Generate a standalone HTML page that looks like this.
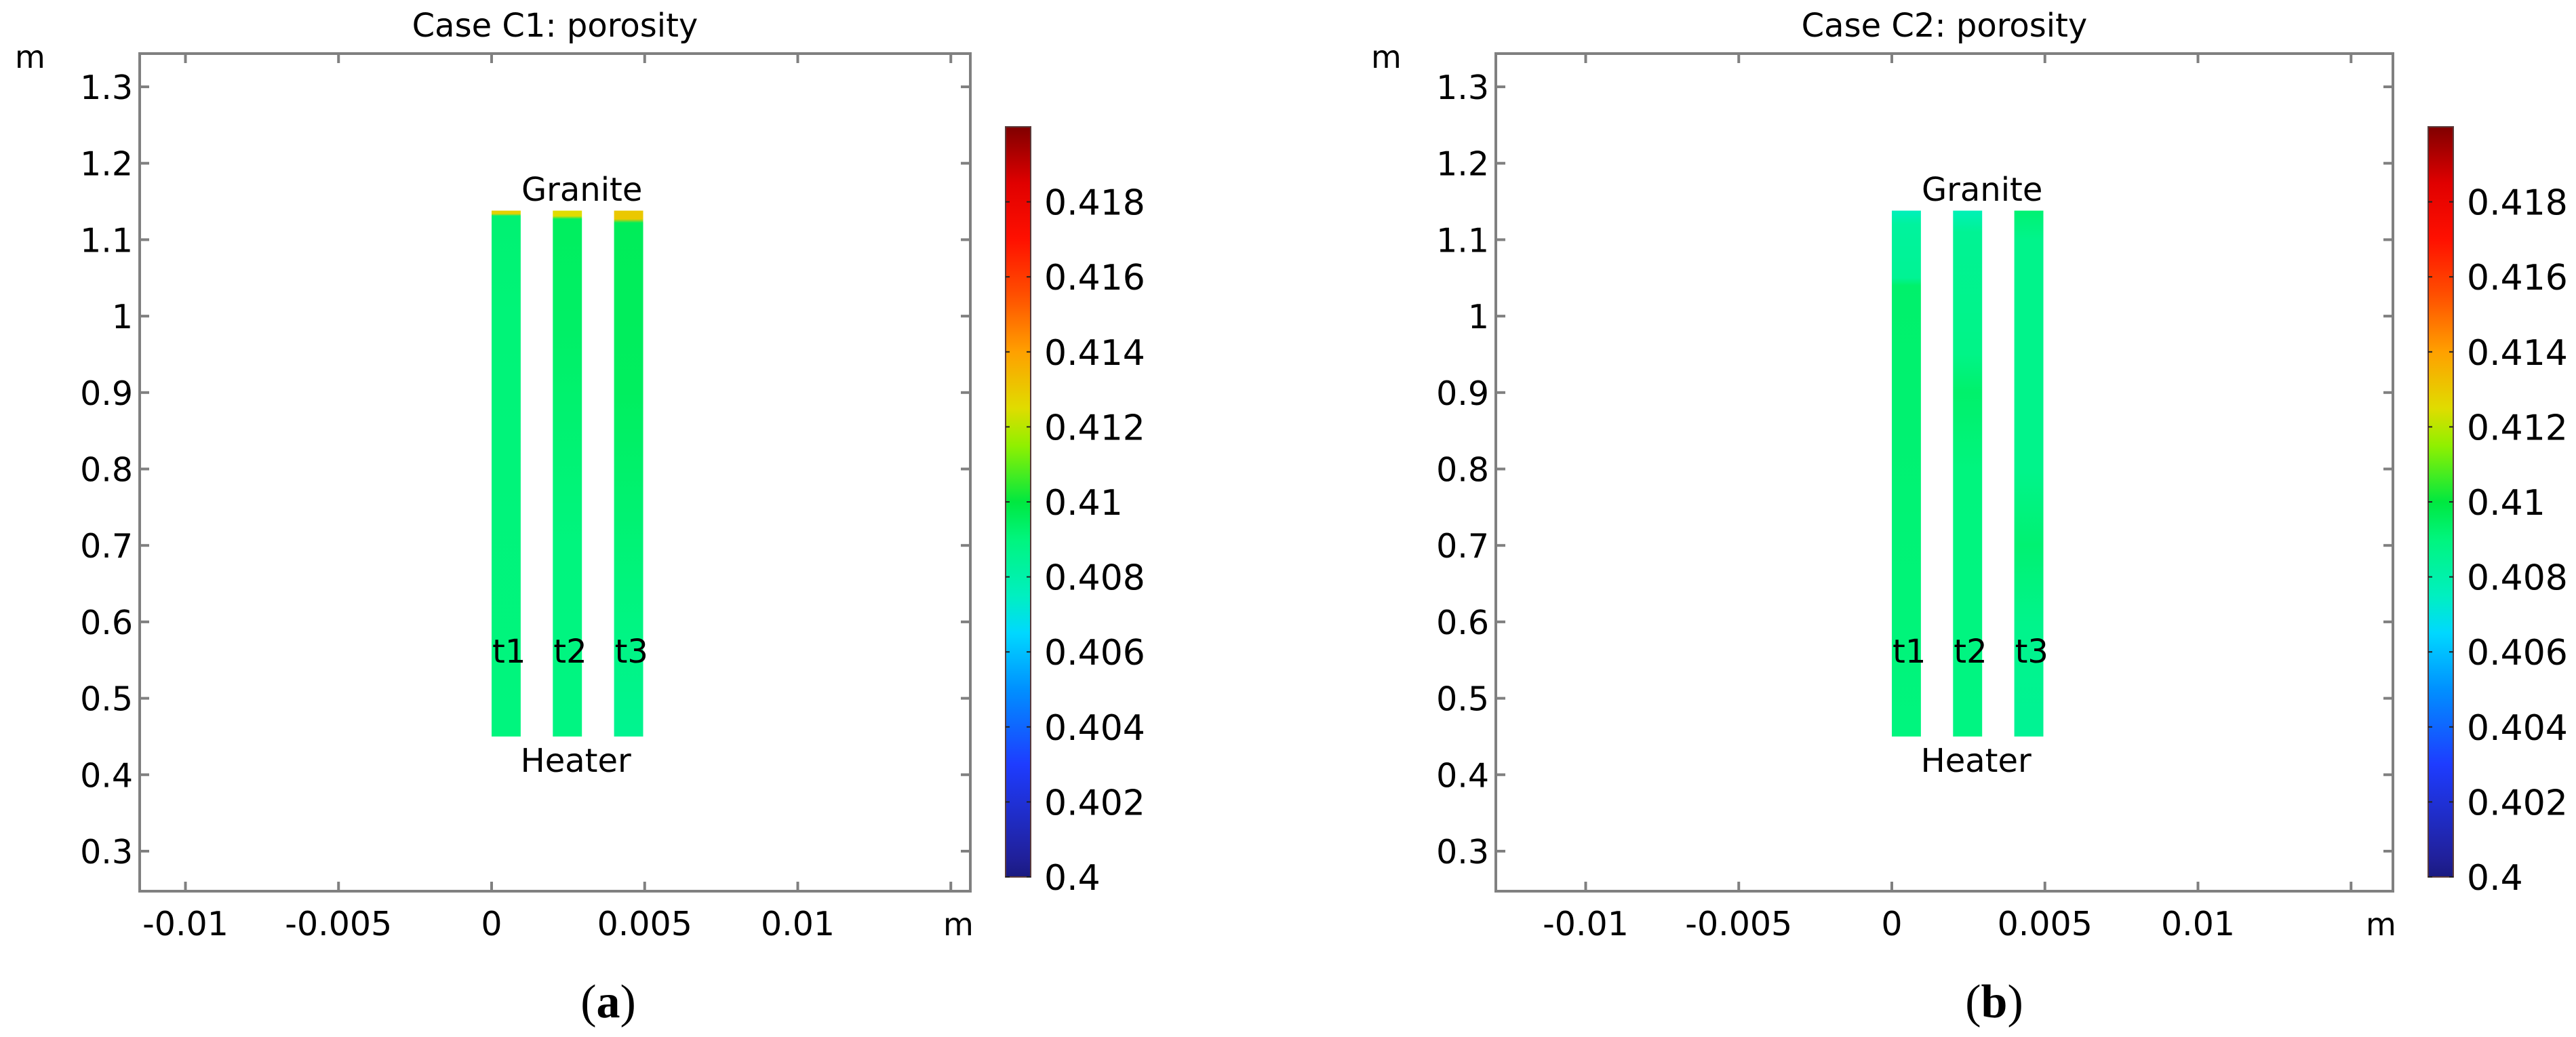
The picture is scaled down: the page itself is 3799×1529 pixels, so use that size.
<!DOCTYPE html>
<html><head><meta charset="utf-8"><style>
html,body{margin:0;padding:0;background:#fff;}
svg{display:block;}
text{font-family:"DejaVu Sans","Liberation Sans",sans-serif;fill:#000;}
</style></head><body>
<svg id="fig" width="3799" height="1529" viewBox="0 0 3799 1529" xmlns="http://www.w3.org/2000/svg"></svg>
<script>
// ---- data ----
const yTicks = [1.3, 1.2, 1.1, 1.0, 0.9, 0.8, 0.7, 0.6, 0.5, 0.4, 0.3];
const yTickLabels = ["1.3","1.2","1.1","1","0.9","0.8","0.7","0.6","0.5","0.4","0.3"];
const xTicks = [-0.01, -0.005, 0, 0.005, 0.01, 0.015];
const xTickLabels = ["-0.01","-0.005","0","0.005","0.01",""];
const cbTicks = [0.418, 0.416, 0.414, 0.412, 0.41, 0.408, 0.406, 0.404, 0.402, 0.4];
const cbTickLabels = ["0.418","0.416","0.414","0.412","0.41","0.408","0.406","0.404","0.402","0.4"];
const cbMin = 0.4, cbMax = 0.42;
const barNames = ["t1","t2","t3"];
const barX0 = [0, 0.002, 0.004];
const barX1 = [0.00095, 0.00295, 0.00495];
const barYBottom = 0.45, barYTop = 1.138;
// per-bar vertical profile: heights (m) and porosity values
const c1T1Y = [1.138, 1.134, 1.131, 1.0, 0.45];
const c1T1V = [0.4128, 0.4128, 0.4092, 0.4091, 0.4090];
const c1T2Y = [1.138, 1.131, 1.127, 1.0, 0.7, 0.45];
const c1T2V = [0.4125, 0.4125, 0.4095, 0.4094, 0.4090, 0.4089];
const c1T3Y = [1.138, 1.127, 1.122, 0.9, 0.6, 0.45];
const c1T3V = [0.4130, 0.4130, 0.4096, 0.4095, 0.4089, 0.4086];
const c2T1Y = [1.138, 1.12, 1.05, 1.04, 0.45];
const c2T1V = [0.4076, 0.4083, 0.4085, 0.4093, 0.4090];
const c2T2Y = [1.138, 1.11, 0.95, 0.9, 0.8, 0.45];
const c2T2V = [0.4077, 0.4085, 0.4088, 0.4093, 0.4090, 0.4089];
const c2T3Y = [1.138, 1.1, 0.8, 0.7, 0.6, 0.45];
const c2T3V = [0.4092, 0.4087, 0.4087, 0.4092, 0.4087, 0.4085];
// colormap stops (value, colour)
const cmapV = [0.400, 0.4005, 0.403, 0.405, 0.4065, 0.4075, 0.409, 0.410, 0.4115, 0.4125, 0.414, 0.4155, 0.417, 0.4185, 0.420];
const cmapC = ["#1a1a80","#20209a","#1e3cff","#0090ff","#00d8ff","#00f0c0","#00f57e","#00e840","#90f000","#e0dc00","#ffa000","#ff5000","#ff1000","#e00000","#800000"];

const NS = "http://www.w3.org/2000/svg";
const svg = document.getElementById("fig");
const defs = document.createElementNS(NS, "defs");
svg.appendChild(defs);

function mk(tag, attrs, parent) {
  const e = document.createElementNS(NS, tag);
  for (const k in attrs) e.setAttribute(k, attrs[k]);
  (parent || svg).appendChild(e);
  return e;
}
function hex2rgb(h){return [parseInt(h.substr(1,2),16),parseInt(h.substr(3,2),16),parseInt(h.substr(5,2),16)];}
function cmap(v){
  if (v <= cmapV[0]) return cmapC[0];
  for (let i = 1; i < cmapV.length; i++) {
    if (v <= cmapV[i]) {
      const t = (v - cmapV[i-1]) / (cmapV[i] - cmapV[i-1]);
      const a = hex2rgb(cmapC[i-1]), b = hex2rgb(cmapC[i]);
      return "rgb(" + a.map((c, j) => Math.round(c + (b[j]-c)*t)).join(",") + ")";
    }
  }
  return cmapC[cmapC.length-1];
}

const yScale = v => 128 + (1.3 - v) * 1127;
const boxTop = 79, boxBottom = 1314;

function panel(p) {
  const g = mk("g", {});
  
  
  const xs = v => p.x0 + v * 45150;
  const title = mk("text", {x: (p.left + p.right)/2, y: 54, "font-size": 48, "text-anchor": "middle"}, g);
  title.textContent = p.title;
  
  
  const yu = mk("text", {x: p.left - 184, y: 100, "font-size": 46}, g);
  yu.textContent = "m";
  
  
  const bars = mk("g", {}, g);
  
  
  for (let i = 0; i < barNames.length; i++) {
    const gid = p.id + "-grad-" + i;
    const lg = mk("linearGradient", {id: gid, x1: 0, y1: 0, x2: 0, y2: 1}, defs);
    const ys = p.barY[i], vs = p.barV[i];
    for (let k = 0; k < ys.length; k++) {
      const off = (barYTop - ys[k]) / (barYTop - barYBottom);
      mk("stop", {offset: off, "stop-color": cmap(vs[k])}, lg);
    }
    const r = mk("rect", {x: xs(barX0[i]), y: yScale(barYTop), width: xs(barX1[i]) - xs(barX0[i]), height: yScale(barYBottom) - yScale(barYTop), fill: "url(#" + gid + ")"}, bars);
    
    
    const lbl = mk("text", {x: xs(barX0[i]) + 1, y: 977, "font-size": 48}, bars);
    lbl.textContent = barNames[i];
    
    
  }
  const gr = mk("text", {x: xs(0.00295), y: 296, "font-size": 48, "text-anchor": "middle"}, g);
  gr.textContent = "Granite";
  
  
  const ht = mk("text", {x: xs(0.00275), y: 1138, "font-size": 48, "text-anchor": "middle"}, g);
  ht.textContent = "Heater";
  
  
  const box = mk("rect", {x: p.left, y: boxTop, width: p.right - p.left, height: boxBottom - boxTop, fill: "none", stroke: "#808080", "stroke-width": 4}, g);
  
  
  for (let i = 0; i < yTicks.length; i++) {
    const y = yScale(yTicks[i]);
    mk("line", {x1: p.left, x2: p.left + 14, y1: y, y2: y, stroke: "#808080", "stroke-width": 4}, g);
    mk("line", {x1: p.right - 14, x2: p.right, y1: y, y2: y, stroke: "#808080", "stroke-width": 4}, g);
    const t = mk("text", {x: p.left - 10, y: y + 18, "font-size": 49, "text-anchor": "end"}, g);
    t.textContent = yTickLabels[i];
    
    
  }
  for (let i = 0; i < xTicks.length; i++) {
    const x = xs(xTicks[i]);
    mk("line", {x1: x, x2: x, y1: boxBottom, y2: boxBottom - 14, stroke: "#808080", "stroke-width": 4}, g);
    mk("line", {x1: x, x2: x, y1: boxTop, y2: boxTop + 14, stroke: "#808080", "stroke-width": 4}, g);
    if (xTickLabels[i]) {
      const t = mk("text", {x: x, y: 1379, "font-size": 49, "text-anchor": "middle"}, g);
      t.textContent = xTickLabels[i];
      
      
    }
  }
  const xu = mk("text", {x: p.right - 40, y: 1379, "font-size": 46}, g);
  xu.textContent = "m";
  
  
  const cbx = p.right + 52, cbw = 37;
  const cbScale = v => 1293 - (v - cbMin) / (cbMax - cbMin) * 1106;
  const cgid = p.id + "-cbgrad";
  const cg = mk("linearGradient", {id: cgid, x1: 0, y1: 1, x2: 0, y2: 0}, defs);
  for (let i = 0; i < cmapV.length; i++) {
    mk("stop", {offset: (cmapV[i] - cbMin) / (cbMax - cbMin), "stop-color": cmapC[i]}, cg);
  }
  const cb = mk("rect", {x: cbx, y: cbScale(cbMax), width: cbw, height: cbScale(cbMin) - cbScale(cbMax), fill: "url(#" + cgid + ")", stroke: "#5a3a3a", "stroke-width": 2}, g);
  
  
  for (let i = 0; i < cbTicks.length; i++) {
    const y = cbScale(cbTicks[i]);
    mk("line", {x1: cbx, x2: cbx + 6, y1: y, y2: y, stroke: "#222", "stroke-width": 2}, g);
    mk("line", {x1: cbx + cbw - 6, x2: cbx + cbw, y1: y, y2: y, stroke: "#222", "stroke-width": 2}, g);
    const t = mk("text", {x: cbx + 57, y: y + 19, "font-size": 52}, g);
    t.textContent = cbTickLabels[i];
    
    
  }
  const cap = mk("text", {x: p.capX, y: 1500, "font-size": 70, "text-anchor": "middle", style: "font-family:'Liberation Serif',serif"}, g);
  cap.innerHTML = '(<tspan font-weight="bold">' + p.cap + '</tspan>)';
  
  
}

panel({id: "c1", title: "Case C1: porosity", left: 206, right: 1431, x0: 725, capX: 897, cap: "a",
  barY: [c1T1Y, c1T2Y, c1T3Y], barV: [c1T1V, c1T2V, c1T3V]});
panel({id: "c2", title: "Case C2: porosity", left: 2206, right: 3529, x0: 2790, capX: 2941, cap: "b",
  barY: [c2T1Y, c2T2Y, c2T3Y], barV: [c2T1V, c2T2V, c2T3V]});
</script>
</body></html>
